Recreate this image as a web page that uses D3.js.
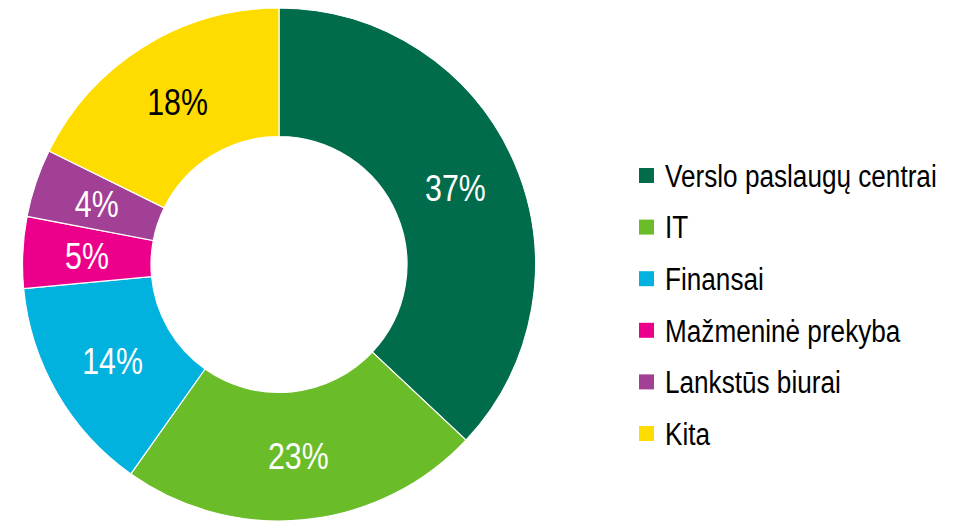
<!DOCTYPE html>
<html>
<head>
<meta charset="utf-8">
<script src="https://cdn.jsdelivr.net/npm/d3@7"></script>
<style>
  body { margin: 0; background: #fff; }
  svg text { font-family: "Liberation Sans Narrow", "Arial Narrow", "Liberation Sans", Arial, sans-serif; }
</style>
</head>
<body>
<div id="chart"></div>
<script>
// sektoriai ir ju dalys (%)
var categories = ["Verslo paslaugų centrai", "IT", "Finansai", "Mažmeninė prekyba", "Lankstūs biurai", "Kita"];
var values = [37.0, 22.8, 13.7, 4.5, 4.3, 17.7];
var colors = ["#016c4c", "#6abd29", "#00b2dd", "#ec008b", "#a14095", "#ffdc00"];
var labelColors = ["#fff", "#fff", "#fff", "#fff", "#fff", "#000"];

var W = 966, H = 521;
var cx = 279, cy = 264.5, R = 256.5, r = 128;
var narrow = 0.83; // pas mus nera Arial Narrow -> suspaudziam ranka

var svg = d3.select("#chart").append("svg").attr("width", W).attr("height", H);

var data = categories.map(function(c, i){ return {name: c, value: values[i], i: i}; });

var pie = d3.pie().sort(null).value(function(d){ return d.value; });
var arc = d3.arc().innerRadius(r).outerRadius(R);

var g = svg.append("g").attr("transform", "translate(" + cx + "," + cy + ")");

var slices = g.selectAll("g.slice").data(pie(data)).enter().append("g").attr("class", "slice");

slices.append("path")
    .attr("d", arc)
    .attr("fill", function(d){ return colors[d.data.i]; })
    .attr("stroke", "#fff")
    .attr("stroke-width", 1.2);

// etiketes procentais
slices.append("text")
    .attr("transform", function(d){ return "translate(" + arc.centroid(d) + ") scale(0.82,1)"; })
    .attr("text-anchor", "middle")
    .attr("dy", "0.36em")
    .attr("font-size", 37)
    .attr("fill", function(d){ return labelColors[d.data.i]; })
    .text(function(d){ return Math.round(d.data.value) + "%"; });

// legenda
var legend = svg.append("g").attr("transform", "translate(639,175.5)");
var rowH = 51.6;
var items = legend.selectAll("g").data(data).enter().append("g")
    .attr("transform", function(d, i){ return "translate(0," + (i * rowH) + ")"; });
items.append("rect")
    .attr("x", 0).attr("y", -7.5)
    .attr("width", 15).attr("height", 15)
    .attr("fill", function(d){ return colors[d.i]; });
items.append("text")
    .attr("transform", "translate(26,0) scale(" + narrow + ",1)")
    .attr("dy", "0.36em")
    .attr("font-size", 31.5)
    .attr("fill", "#000")
    .text(function(d){ return d.name; });
</script>
</body>
</html>
